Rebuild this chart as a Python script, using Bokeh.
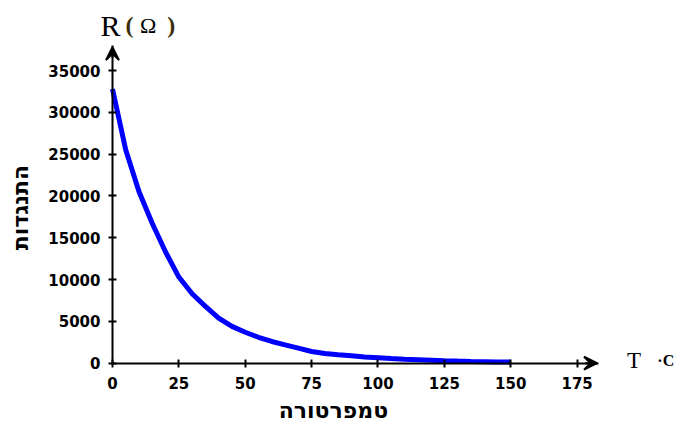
from bokeh.plotting import figure
from bokeh.models import Range1d, Label, Arrow, VeeHead, FixedTicker
from bokeh.embed import file_html
from bokeh.resources import INLINE

# Temperature (°C) and resistance (Ω)
temps = [0, 5, 10, 15, 20, 25, 30, 35, 40, 45, 50, 55, 60, 65, 70, 75,
         80, 85, 90, 95, 100, 105, 110, 115, 120, 125, 130, 135, 140, 145, 150]
resist = [32800, 25500, 20500, 16700, 13300, 10300, 8300, 6800, 5400, 4400,
          3700, 3100, 2600, 2200, 1800, 1400, 1150, 1000, 900, 750,
          650, 550, 480, 420, 360, 300, 250, 210, 180, 150, 130]
x_ticks = [0, 25, 50, 75, 100, 125, 150, 175]
y_ticks = [0, 5000, 10000, 15000, 20000, 25000, 30000, 35000]

x_title = "טמפרטורה"
y_title = "התנגדות"

p = figure(width=683, height=422, output_backend="svg", toolbar_location=None,
           x_range=Range1d(-42.18, 215.07), y_range=Range1d(-7092, 43375),
           min_border=0, min_border_left=0, min_border_right=0,
           min_border_top=0, min_border_bottom=0)
p.outline_line_color = None
p.grid.visible = False
p.background_fill_color = "white"
p.border_fill_color = "white"

p.line(temps, resist, line_color="#0000ff", line_width=5)

for ax, ticks, bounds in ((p.xaxis, x_ticks, (0, 183)), (p.yaxis, y_ticks, (0, 38000))):
    ax.ticker = FixedTicker(ticks=ticks)
    ax.fixed_location = 0
    ax.bounds = bounds
    ax.axis_line_width = 2
    ax.axis_line_color = "black"
    ax.major_tick_line_width = 2
    ax.major_tick_line_color = "black"
    ax.major_tick_in = 4
    ax.major_tick_out = 4
    ax.minor_tick_line_color = None
    ax.major_label_text_font = "DejaVu Sans"
    ax.major_label_text_font_style = "bold"
    ax.major_label_text_font_size = "15px"
    ax.major_label_text_color = "black"
p.yaxis.major_label_standoff = 8
p.xaxis.major_label_standoff = 10

# arrow heads on axes
p.add_layout(Arrow(end=VeeHead(size=13, fill_color="black", line_color="black", line_width=2),
                   x_start=0, y_start=36500, x_end=0, y_end=37800,
                   line_width=2, line_color="black"))
p.add_layout(Arrow(end=VeeHead(size=13, fill_color="black", line_color="black", line_width=2),
                   x_start=178, y_start=0, x_end=182.5, y_end=0,
                   line_width=2, line_color="black"))

# axis titles
p.add_layout(Label(x=-34.5, y=18620, text=y_title, angle=1.5708,
                   text_font="DejaVu Sans", text_font_style="bold",
                   text_font_size="22px", text_align="center",
                   text_baseline="middle", text_color="black"))
p.add_layout(Label(x=83.2, y=-5600, text=x_title,
                   text_font="DejaVu Sans", text_font_style="bold",
                   text_font_size="22px", text_align="center",
                   text_baseline="middle", text_color="black"))

# unit labels
title_y = 40400
p.add_layout(Label(x=-4.5, y=title_y, text="R", text_font="Liberation Serif",
                   text_font_size="30px", text_align="left",
                   text_baseline="alphabetic", text_color="black"))
p.add_layout(Label(x=4.9, y=title_y, text="(", text_font="Liberation Serif",
                   text_font_size="24px", text_font_style="bold", text_align="left",
                   text_baseline="alphabetic", text_color="#3d2e0a"))
p.add_layout(Label(x=10.4, y=title_y, text="Ω", text_font="Liberation Serif",
                   text_font_size="22px", text_align="left",
                   text_baseline="alphabetic", text_color="black"))
p.add_layout(Label(x=20.6, y=title_y, text=")", text_font="Liberation Serif",
                   text_font_size="24px", text_font_style="bold", text_align="left",
                   text_baseline="alphabetic", text_color="#3d2e0a"))
p.add_layout(Label(x=193.8, y=330, text="T", text_font="Liberation Serif",
                   text_font_size="23px", text_align="left",
                   text_baseline="alphabetic", text_color="black"))
p.add_layout(Label(x=205.2, y=330, text="·C", text_font="Liberation Serif",
                   text_font_size="16px", text_font_style="bold", text_align="left",
                   text_baseline="alphabetic", text_color="black"))

open("out.html", "w").write(file_html(p, INLINE))
